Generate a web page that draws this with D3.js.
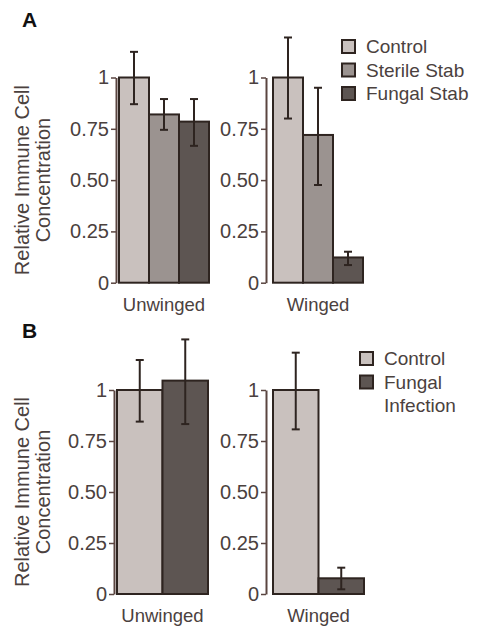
<!DOCTYPE html>
<html>
<head>
<meta charset="utf-8">
<script src="https://cdn.jsdelivr.net/npm/d3@7"></script>
<style>
  body { margin: 0; background: #fff; }
  text { font-family: "Liberation Sans", Arial, sans-serif; }
</style>
</head>
<body>
<div id="chart"></div>
<script>
const width = 477;
const height = 635;

const groups = ["Unwinged", "Winged"];
const tickValues = [0, 0.25, 0.5, 0.75, 1];
const tickLabels = ["0", "0.25", "0.50", "0.75", "1"];

// panel A: control / sterile stab / fungal stab
const seriesA = ["Control", "Sterile Stab", "Fungal Stab"];
const meanA = [[1, 0.82, 0.785], [1, 0.72, 0.123]];
const lowA = [[0.87, 0.745, 0.667], [0.80, 0.476, 0.086]];
const highA = [[1.125, 0.895, 0.895], [1.195, 0.95, 0.151]];

// panel B: control / fungal infection
const seriesB = ["Control", "Fungal Infection"];
const meanB = [[1, 1.046], [1, 0.077]];
const lowB = [[0.845, 0.833], [0.807, 0.023]];
const highB = [[1.147, 1.248], [1.183, 0.129]];

const colorA = ["#c9c1be", "#9b9390", "#5d5552"];
const colorB = ["#c9c1be", "#5d5552"];

const textColor = "#4b413e";
const axisColor = "#5a4540";
const edgeColor = "#2e2420";

const svg = d3.select("#chart")
    .append("svg")
    .attr("width", width)
    .attr("height", height);

function drawPanel(opt) {
    const y = d3.scaleLinear().domain([0, 1]).range([opt.bottom, opt.top]);

    groups.forEach((g, gi) => {
        const x = d3.scaleBand()
            .domain(opt.series)
            .range([opt.barX[gi], opt.barX[gi] + opt.groupW]);

        // y axis
        const ax = svg.append("g")
            .attr("transform", `translate(${opt.axisX[gi]},0)`)
            .call(d3.axisLeft(y)
                .tickValues(tickValues)
                .tickFormat((d, i) => tickLabels[i])
                .tickSize(5)
                .tickSizeOuter(0)
                .tickPadding(2));
        ax.select(".domain").attr("stroke", axisColor).attr("stroke-width", 2);
        ax.selectAll(".tick line").attr("stroke", axisColor).attr("stroke-width", 1.5);
        ax.selectAll(".tick text")
            .attr("fill", textColor)
            .style("font-size", "20px")
            .style("font-family", "'Liberation Sans', Arial, sans-serif");

        // bars
        svg.append("g").selectAll("rect")
            .data(opt.series)
            .enter().append("rect")
            .attr("x", d => x(d))
            .attr("y", (d, i) => y(opt.mean[gi][i]))
            .attr("width", x.bandwidth())
            .attr("height", (d, i) => y(0) - y(opt.mean[gi][i]))
            .attr("fill", (d, i) => opt.colors[i])
            .attr("stroke", edgeColor)
            .attr("stroke-width", 2);

        // error bars
        const err = svg.append("g").attr("stroke", edgeColor).attr("stroke-width", 2);
        opt.series.forEach((s, i) => {
            const cx = x(s) + x.bandwidth() / 2;
            err.append("line")
                .attr("x1", cx).attr("x2", cx)
                .attr("y1", y(opt.low[gi][i])).attr("y2", y(opt.high[gi][i]));
            [opt.low[gi][i], opt.high[gi][i]].forEach(v => {
                err.append("line")
                    .attr("x1", cx - 4).attr("x2", cx + 4)
                    .attr("y1", y(v)).attr("y2", y(v));
            });
        });

        // category label
        svg.append("text")
            .attr("x", opt.barX[gi] + opt.groupW / 2)
            .attr("y", opt.catY)
            .attr("text-anchor", "middle")
            .attr("fill", textColor)
            .style("font-size", "18.5px")
            .text(g);
    });

    // y title
    const title = svg.append("text")
        .attr("transform", `translate(0,${(opt.top + opt.bottom) / 2}) rotate(-90)`)
        .attr("text-anchor", "middle")
        .attr("fill", textColor)
        .style("font-size", "20px");
    title.append("tspan").attr("x", 0).attr("y", 29).text("Relative Immune Cell");
    title.append("tspan").attr("x", 0).attr("y", 50).text("Concentration");

    // panel letter
    svg.append("text")
        .attr("x", 22)
        .attr("y", opt.letterY)
        .attr("fill", "#111")
        .style("font-size", "21px")
        .style("font-weight", "bold")
        .text(opt.letter);

    // legend
    const leg = svg.append("g");
    opt.legendLines.forEach((lines, i) => {
        const by = opt.legendY + i * 23.5;
        leg.append("rect")
            .attr("x", opt.legendX)
            .attr("y", by - 13)
            .attr("width", 13)
            .attr("height", 13)
            .attr("fill", opt.colors[i])
            .attr("stroke", edgeColor)
            .attr("stroke-width", 2);
        lines.forEach((t, li) => {
            leg.append("text")
                .attr("x", opt.legendX + 24)
                .attr("y", by + li * 23.5)
                .attr("fill", textColor)
                .style("font-size", "19px")
                .text(t);
        });
    });
}

drawPanel({
    letter: "A", letterY: 27,
    series: seriesA, mean: meanA, low: lowA, high: highA, colors: colorA,
    top: 77.5, bottom: 282.7,
    axisX: [116, 266], barX: [119, 273], groupW: 90,
    catY: 311,
    legendX: 342, legendY: 53,
    legendLines: [["Control"], ["Sterile Stab"], ["Fungal Stab"]]
});

drawPanel({
    letter: "B", letterY: 338,
    series: seriesB, mean: meanB, low: lowB, high: highB, colors: colorB,
    top: 390, bottom: 594,
    axisX: [114, 266], barX: [117, 273], groupW: 91,
    catY: 622,
    legendX: 360, legendY: 365,
    legendLines: [["Control"], ["Fungal", "Infection"]]
});
</script>
</body>
</html>
